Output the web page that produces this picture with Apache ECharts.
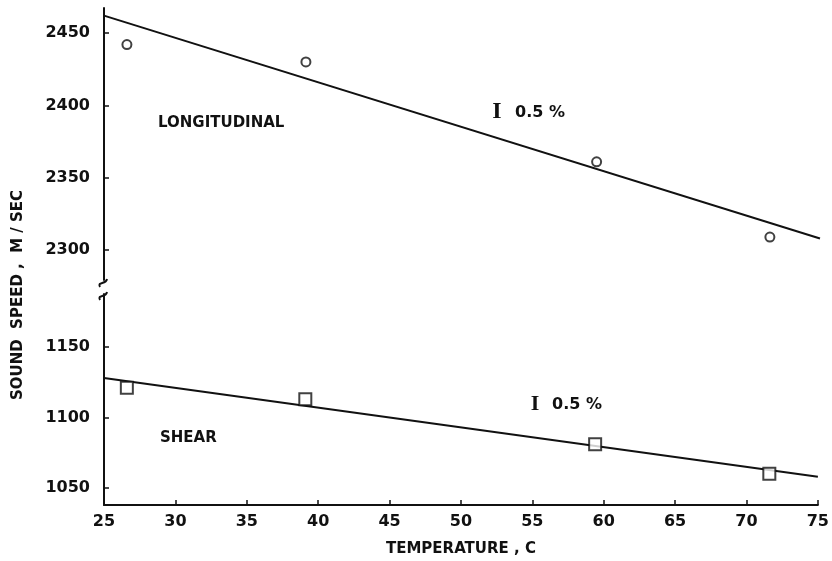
<!DOCTYPE html>
<html>
<head>
<meta charset="utf-8">
<script src="https://cdn.jsdelivr.net/npm/echarts@6/dist/echarts.min.js"></script>
<style>
  html, body { margin: 0; padding: 0; background: #fff; }
  #chart { width: 832px; height: 561px; }
</style>
</head>
<body>
<div id="chart"></div>
<script>
  // measured points
  const longTemps = [26.6, 39.1, 59.4, 71.5];
  const longSpeeds = [2442, 2430, 2361, 2309];
  const shearTemps = [26.6, 39.1, 59.4, 71.6];
  const shearSpeeds = [1121, 1113, 1081, 1060];
  // fitted straight lines (end points at 25 and 75 C)
  const fitTemps = [25, 75];
  const longFit = [2462, 2308];
  const shearFit = [1128, 1058];
  // tick labels
  const upperTicks = [2300, 2350, 2400, 2450];
  const lowerTicks = [1050, 1100, 1150];

  const font = 'DejaVu Sans';
  const ink = '#111';

  function pairs(xs, ys) {
    return xs.map((x, i) => [x, ys[i]]);
  }

  function yAxisFor(gridIndex, min, max, ticks) {
    return {
      type: 'value',
      gridIndex: gridIndex,
      min: min,
      max: max,
      axisLine: { show: true, lineStyle: { color: ink, width: 2 } },
      axisTick: { show: true, inside: true, length: 5, customValues: ticks, lineStyle: { color: ink, width: 1.5 } },
      axisLabel: {
        customValues: ticks,
        formatter: v => String(Math.round(v)),
        color: ink, fontFamily: font, fontWeight: 'bold', fontSize: 16, margin: 14
      },
      splitLine: { show: false }
    };
  }

  const option = {
    backgroundColor: '#fff',
    animation: false,
    grid: [
      { left: 104, right: 12, top: 8, height: 272 },
      { left: 104, right: 12, top: 294, height: 211 }
    ],
    xAxis: [
      { type: 'value', gridIndex: 0, min: 25, max: 75, show: false },
      {
        type: 'value',
        gridIndex: 1,
        min: 25,
        max: 75,
        interval: 5,
        name: 'TEMPERATURE , C',
        nameLocation: 'middle',
        nameGap: 37,
        nameTextStyle: { color: ink, fontFamily: font, fontWeight: 'bold', fontSize: 15 },
        axisLine: { lineStyle: { color: ink, width: 2 } },
        axisTick: { inside: true, length: 5, lineStyle: { color: ink, width: 1.5 } },
        axisLabel: { color: ink, fontFamily: font, fontWeight: 'bold', fontSize: 16, margin: 9 },
        splitLine: { show: false }
      }
    ],
    yAxis: [
      yAxisFor(0, 2279.3, 2467.3, upperTicks),
      yAxisFor(1, 1037.9, 1187.6, lowerTicks)
    ],
    series: [
      {
        type: 'line',
        xAxisIndex: 0, yAxisIndex: 0,
        data: pairs(fitTemps, longFit),
        symbol: 'none',
        lineStyle: { color: ink, width: 2 }
      },
      {
        type: 'scatter',
        xAxisIndex: 0, yAxisIndex: 0,
        data: pairs(longTemps, longSpeeds),
        symbol: 'circle',
        symbolSize: 9,
        itemStyle: { color: '#fff', borderColor: ink, borderWidth: 2 }
      },
      {
        type: 'line',
        xAxisIndex: 1, yAxisIndex: 1,
        data: pairs(fitTemps, shearFit),
        symbol: 'none',
        lineStyle: { color: ink, width: 2 }
      },
      {
        type: 'scatter',
        xAxisIndex: 1, yAxisIndex: 1,
        data: pairs(shearTemps, shearSpeeds),
        symbol: 'rect',
        symbolSize: 12,
        itemStyle: { color: '#fff', borderColor: ink, borderWidth: 2 },
        z: 3
      }
    ],
    graphic: [
      // y axis title across both panels
      {
        type: 'text', x: 18, y: 295, rotation: Math.PI / 2,
        style: { text: 'SOUND  SPEED ,  M / SEC', fill: ink, font: 'bold 15px ' + font, align: 'center', verticalAlign: 'middle' }
      },
      { type: 'text', x: 158, y: 123, style: { text: 'LONGITUDINAL', fill: ink, font: 'bold 15px ' + font, verticalAlign: 'middle' } },
      { type: 'text', x: 160, y: 438, style: { text: 'SHEAR', fill: ink, font: 'bold 15px ' + font, verticalAlign: 'middle' } },
      { type: 'text', x: 497, y: 112, style: { text: 'I', fill: ink, font: 'bold 24px Liberation Serif', align: 'center', verticalAlign: 'middle' } },
      { type: 'text', x: 515, y: 113, style: { text: '0.5 %', fill: ink, font: 'bold 16px ' + font, verticalAlign: 'middle' } },
      { type: 'text', x: 535, y: 404, style: { text: 'I', fill: ink, font: 'bold 22px Liberation Serif', align: 'center', verticalAlign: 'middle' } },
      { type: 'text', x: 552, y: 405, style: { text: '0.5 %', fill: ink, font: 'bold 16px ' + font, verticalAlign: 'middle' } },
      // axis break marks
      {
        type: 'bezierCurve',
        shape: { x1: 100, y1: 287, x2: 107, y2: 279, cpx1: 97, cpy1: 281, cpx2: 106, cpy2: 285 },
        style: { stroke: ink, lineWidth: 2, fill: null }
      },
      {
        type: 'bezierCurve',
        shape: { x1: 100, y1: 300, x2: 107, y2: 292, cpx1: 97, cpy1: 294, cpx2: 106, cpy2: 298 },
        style: { stroke: ink, lineWidth: 2, fill: null }
      }
    ]
  };

  const chartObj = echarts.init(document.getElementById('chart'));
  chartObj.setOption(option);
</script>
</body>
</html>
